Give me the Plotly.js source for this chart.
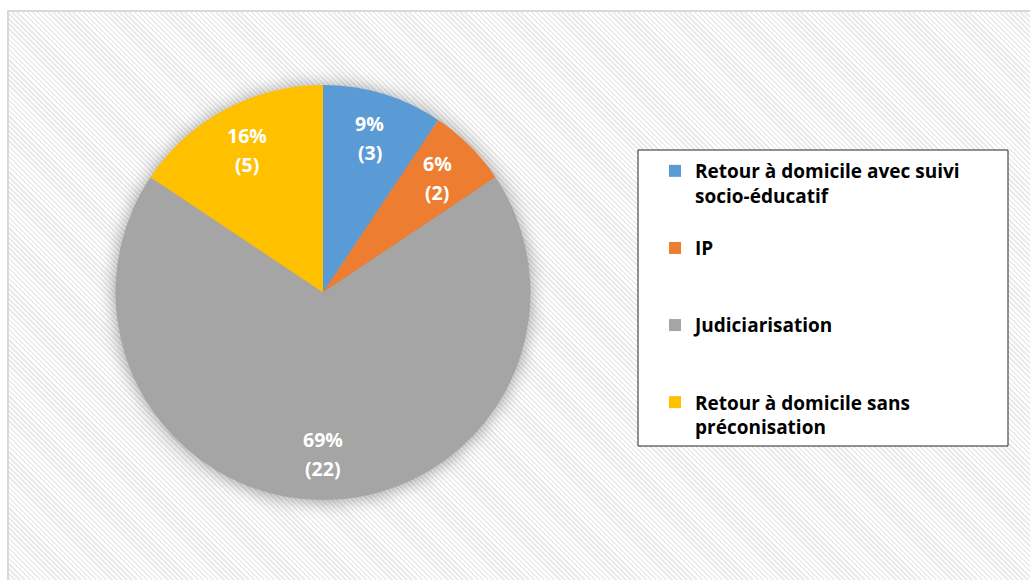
<!DOCTYPE html>
<html>
<head>
<meta charset="utf-8">
<script src="https://cdn.plot.ly/plotly-3.0.1.min.js"></script>
<style>
  html, body { margin: 0; padding: 0; background: #ffffff; }
  #frame {
    position: absolute; left: 7px; top: 10px; width: 1030px; height: 580px;
    border: 2px solid #d9d9d9; box-sizing: border-box;
    background: repeating-linear-gradient(45deg, #ffffff 0px, #ffffff 1.8px, #ebebeb 1.8px, #ebebeb 3.6px);
  }
  #chart { position: absolute; left: 0; top: 0; width: 1030px; height: 580px; }
  #chart .pielayer { filter: drop-shadow(0px 1px 9px rgba(0,0,0,0.38)); }
</style>
</head>
<body>
<div id="frame"></div>
<div id="chart"></div>
<script>
const categories = [
  "Retour à domicile avec suivi socio-éducatif",
  "IP",
  "Judiciarisation",
  "Retour à domicile sans préconisation"
];
const legendLines = [
  ["Retour à domicile avec suivi", "socio-éducatif"],
  ["IP"],
  ["Judiciarisation"],
  ["Retour à domicile sans", "préconisation"]
];
const counts = [3, 2, 22, 5];
const colors = ["#5B9BD5", "#ED7D31", "#A5A5A5", "#FFC000"];

const FONT = "'Open Sans', 'Noto Sans', sans-serif";

// legend labels padded so every entry takes the same height (first line aligned with the swatch)
const legendLabels = legendLines.map((lines, i) => {
  const target = i === legendLines.length - 1 ? lines.length : 3;
  const out = lines.slice();
  while (out.length < target) out.push("\u00a0");
  return out.join("<br>");
});

const W = 1030, H = 580;
const cx = 323, cy = 292.5, R = 207.5;
const LABEL_R = 0.78;

// data labels placed along each slice's mid-angle (clockwise from 12 o'clock)
const total = counts.reduce((a, b) => a + b, 0);
const annotations = [];
let cum = 0;
counts.forEach((v, i) => {
  const mid = (cum + v / 2) / total * 2 * Math.PI;
  cum += v;
  const px = cx + LABEL_R * R * Math.sin(mid);
  const py = cy - LABEL_R * R * Math.cos(mid);
  const base = {
    xref: "paper", yref: "paper", x: px / W, y: 1 - py / H,
    showarrow: false, xanchor: "center", yanchor: "middle",
    font: { family: FONT, size: 19.5, color: "#ffffff", weight: 700 }
  };
  annotations.push(Object.assign({}, base, { text: Math.round(v / total * 100) + "%", yshift: 14.5 }));
  annotations.push(Object.assign({}, base, { text: "(" + v + ")", yshift: -14.5 }));
});

const trace = {
  type: "pie",
  labels: legendLabels,
  values: counts,
  sort: false,
  direction: "clockwise",
  rotation: 0,
  marker: { colors: colors, line: { width: 0 } },
  textinfo: "none",
  hovertext: categories,
  hoverinfo: "text+value+percent",
  domain: { x: [(cx - R) / W, (cx + R) / W], y: [1 - (cy + R) / H, 1 - (cy - R) / H] },
  showlegend: true
};

const layout = {
  width: W, height: H,
  margin: { l: 0, r: 0, t: 0, b: 0 },
  paper_bgcolor: "rgba(0,0,0,0)",
  plot_bgcolor: "rgba(0,0,0,0)",
  showlegend: true,
  legend: {
    x: 655 / W, y: 1 - 152 / H, xanchor: "left", yanchor: "top",
    valign: "top",
    bgcolor: "rgba(0,0,0,0)", borderwidth: 0,
    font: { family: FONT, size: 19, color: "#000000", weight: 700 },
    traceorder: "normal"
  },
  annotations: annotations,
  shapes: [{
    type: "rect", xref: "paper", yref: "paper",
    x0: 638 / W, x1: 1008 / W, y0: 1 - 446 / H, y1: 1 - 150 / H,
    line: { color: "#262626", width: 1 }, fillcolor: "#ffffff", layer: "below"
  }]
};

Plotly.newPlot("chart", [trace], layout, { displayModeBar: false, staticPlot: true });
</script>
</body>
</html>
